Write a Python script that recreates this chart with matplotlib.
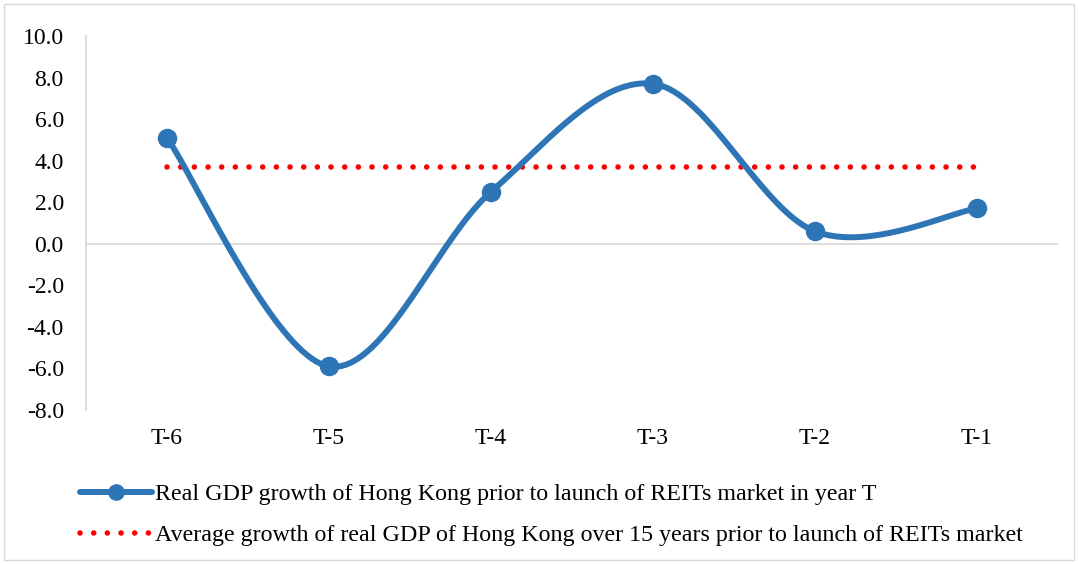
import numpy as np
import matplotlib
matplotlib.use("Agg")
import matplotlib.pyplot as plt
from matplotlib.patches import Rectangle

categories = ["T-6", "T-5", "T-4", "T-3", "T-2", "T-1"]
gdp_growth = [5.1, -5.9, 2.5, 7.7, 0.6, 1.7]
avg_growth = 3.7
y_ticks = [-8.0, -6.0, -4.0, -2.0, 0.0, 2.0, 4.0, 6.0, 8.0, 10.0]

label_gdp = "Real GDP growth of Hong Kong prior to launch of REITs market in year T"
label_avg = "Average growth of real GDP of Hong Kong over 15 years prior to launch of REITs market"

plt.rcParams["font.family"] = ["Liberation Serif", "DejaVu Serif"]


def smooth_curve(xs, ys, n=40):
    """Catmull-Rom style smoothing through the given points (Bezier form)."""
    pts = np.column_stack([xs, ys]).astype(float)
    padded = np.vstack([pts[0], pts, pts[-1]])
    out = []
    t = np.linspace(0, 1, n)
    for i in range(len(pts) - 1):
        p0, p1, p2, p3 = padded[i], padded[i + 1], padded[i + 2], padded[i + 3]
        c1 = p1 + (p2 - p0) / 6.0
        c2 = p2 - (p3 - p1) / 6.0
        seg = ((1 - t) ** 3)[:, None] * p1 + (3 * (1 - t) ** 2 * t)[:, None] * c1 \
            + (3 * (1 - t) * t ** 2)[:, None] * c2 + (t ** 3)[:, None] * p2
        out.append(seg if i == 0 else seg[1:])
    curve = np.vstack(out)
    return curve[:, 0], curve[:, 1]


fig = plt.figure(figsize=(10.78, 5.64), dpi=100)
ax = fig.add_axes([86 / 1078, 1 - 410 / 564, (1058 - 86) / 1078, (410 - 36) / 564])

x = np.arange(len(categories))
blue = "#2E75B6"

sx, sy = smooth_curve(x, gdp_growth)
ax.plot(sx, sy, color=blue, lw=4.3, solid_capstyle="round", zorder=3)
ax.plot(x, gdp_growth, "o", color=blue, ms=13, zorder=4)

ax.plot([x[0], x[-1]], [avg_growth, avg_growth], color="#FF0000", lw=4.0,
        linestyle=(0, (0.01, 2.45)), dash_capstyle="round", zorder=2)

ax.axhline(0, color="#D9D9D9", lw=1.3, zorder=1)

ax.set_xlim(-0.5, len(categories) - 0.5)
ax.set_ylim(-8, 10)
ax.set_yticks(y_ticks)
ax.set_yticklabels([f"{v:.1f}" for v in y_ticks], fontsize=17)
ax.set_xticks(x)
ax.set_xticklabels(categories, fontsize=17)
ax.tick_params(axis="y", length=0, pad=16)
ax.tick_params(axis="x", length=0, pad=13)

for side in ["top", "right", "bottom"]:
    ax.spines[side].set_visible(False)
ax.spines["left"].set_color("#D9D9D9")
ax.spines["left"].set_linewidth(1.3)

h1 = plt.Line2D([], [], color=blue, lw=4.3, marker="o", ms=11, markevery=[1],
                solid_capstyle="round")
h2 = plt.Line2D([], [], color="#FF0000", lw=4.0, linestyle=(0, (0.01, 2.45)),
                dash_capstyle="round")
fig.legend([h1, h2], [label_gdp, label_avg], loc="upper left",
           bbox_to_anchor=(58 / 1078, 1 - 462 / 564), frameon=False,
           fontsize=17.3, handlelength=3.0, handletextpad=0.15, labelspacing=0.78)

fig.patches.append(Rectangle((4 / 1078, 4 / 564), 1 - 8 / 1078, 1 - 8 / 564,
                             transform=fig.transFigure, fill=False,
                             edgecolor="#D9D9D9", lw=1.0))

fig.savefig("out.png", dpi=100, facecolor="white")
